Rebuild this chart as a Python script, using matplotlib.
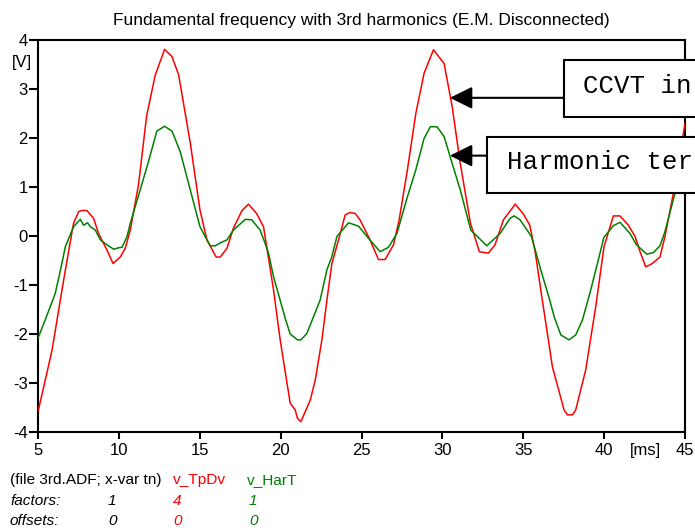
import matplotlib

matplotlib.use("Agg")
import matplotlib.pyplot as plt
from matplotlib.patches import Rectangle

# v_TpDv (already multiplied by factor 4)
time_red = [
    5.0, 5.43, 5.85, 6.26, 6.67, 7.18, 7.5, 7.7, 8.0, 8.42, 8.73, 9.25, 9.62, 10.07, 10.38, 10.69,
    11.2, 11.7, 12.23, 12.81, 13.27, 13.68, 14.4, 15.0, 15.43, 16.0, 16.25, 16.67, 17.07, 17.6,
    18.0, 18.5, 18.93, 19.55, 19.96, 20.58, 20.89, 21.03, 21.24, 21.82, 22.13, 22.54, 22.85, 23.16,
    23.57, 23.98, 24.29, 24.6, 24.9, 25.52, 26.04, 26.45, 26.97, 27.32, 27.83, 28.35, 28.86, 29.44,
    30.1, 30.6, 31.1, 31.73, 32.28, 32.84, 33.25, 33.77, 34.5, 35.0, 35.4, 35.73, 36.08, 36.8,
    37.52, 37.73, 38.04, 38.24, 38.86, 39.48, 39.99, 40.57, 40.98, 41.5, 41.91, 42.22, 42.57,
    42.94, 43.45, 43.76, 44.28, 44.9, 45.0,
]
v_tpdv = [
    -3.56, -2.94, -2.33, -1.51, -0.70, 0.26, 0.50, 0.52, 0.52, 0.36, 0.05, -0.29, -0.56, -0.43, -0.25, 0.12,
    1.05, 2.45, 3.28, 3.81, 3.66, 3.29, 1.90, 0.53, -0.08, -0.43, -0.43, -0.25, 0.16, 0.52,
    0.65, 0.46, 0.19, -1.10, -2.12, -3.41, -3.55, -3.72, -3.79, -3.35, -2.94, -2.12, -1.31, -0.56,
    -0.08, 0.43, 0.48, 0.46, 0.33, -0.08, -0.48, -0.48, -0.18, 0.33, 1.35, 2.50, 3.32, 3.80,
    3.52, 2.64, 1.48, 0.26, -0.32, -0.35, -0.18, 0.33, 0.65, 0.45, 0.22, -0.32, -1.10, -2.67,
    -3.55, -3.65, -3.65, -3.55, -2.73, -1.44, -0.22, 0.41, 0.41, 0.22, -0.01, -0.32, -0.63,
    -0.57, -0.43, -0.01, 0.87, 2.10, 2.30,
]

# v_HarT (factor 1)
time_green = [
    5.0, 5.43, 6.05, 6.46, 6.67, 7.18, 7.6, 7.8, 8.05, 8.22, 8.53, 8.84, 9.25, 9.66, 9.97, 10.18,
    10.49, 10.69, 11.3, 11.8, 12.33, 12.81, 13.27, 13.78, 14.4, 15.0, 15.63, 15.94, 16.25, 16.67,
    17.07, 17.8, 18.2, 18.72, 19.03, 19.24, 19.55, 19.96, 20.27, 20.58, 21.03, 21.24, 21.61, 22.02,
    22.43, 22.85, 23.16, 23.47, 24.19, 24.81, 25.33, 26.14, 26.66, 27.18, 27.83, 28.35, 28.86,
    29.25, 29.66, 30.1, 30.6, 31.1, 31.75, 32.74, 33.56, 34.18, 34.43, 34.8, 35.5, 36.08, 36.6,
    36.91, 37.32, 37.83, 38.24, 38.66, 39.17, 39.69, 39.98, 40.57, 40.98, 41.6, 42.0, 42.63, 43.04,
    43.45, 43.76, 44.38, 45.0,
]
v_hart = [
    -2.07, -1.71, -1.17, -0.56, -0.22, 0.19, 0.34, 0.22, 0.27, 0.19, 0.12, -0.08, -0.18, -0.27, -0.24, -0.23,
    -0.01, 0.26, 0.94, 1.50, 2.14, 2.24, 2.14, 1.72, 0.94, 0.19, -0.20, -0.20, -0.14, -0.08,
    0.12, 0.34, 0.33, 0.12, -0.15, -0.35, -0.83, -1.31, -1.68, -2.00, -2.12, -2.12, -1.99, -1.65,
    -1.31, -0.69, -0.42, -0.01, 0.27, 0.20, -0.01, -0.32, -0.23, 0.05, 0.80, 1.35, 1.99,
    2.23, 2.23, 2.03, 1.48, 0.94, 0.12, -0.20, 0.05, 0.36, 0.41, 0.33, -0.01, -0.69, -1.27,
    -1.65, -2.02, -2.12, -2.02, -1.71, -1.10, -0.42, -0.03, 0.21, 0.28, 0.05, -0.18, -0.37, -0.34,
    -0.20, 0.09, 0.87, 1.60,
]

x_ticks = [5, 10, 15, 20, 25, 30, 35, 40, 45]
y_ticks = [-4, -3, -2, -1, 0, 1, 2, 3, 4]

title = "Fundamental frequency with 3rd harmonics (E.M. Disconnected)"
footer_rows = [
    ("(file 3rd.ADF; x-var tn)", "v_TpDv", "v_HarT"),
    ("factors:", "1", "4", "1"),
    ("offsets:", "0", "0", "0"),
]

RED = "#ff0000"
GREEN = "#008000"
W, H = 695, 531

plt.rcParams["font.family"] = ["Liberation Sans", "DejaVu Sans"]
plt.rcParams["axes.unicode_minus"] = False

fig = plt.figure(figsize=(W / 100, H / 100), dpi=100)
ax = fig.add_axes([38.3 / W, 1 - 432 / H, (685 - 38.3) / W, 392 / H])
ax.plot(time_red, v_tpdv, color=RED, lw=1.1, zorder=3)
ax.plot(time_green, v_hart, color=GREEN, lw=1.1, zorder=3)

ax.set_xlim(5, 45)
ax.set_ylim(-4, 4)
ax.set_xticks(x_ticks)
ax.set_yticks(y_ticks)
ax.tick_params(axis="y", direction="out", length=6.5, width=1.5, pad=1, labelsize=12)
ax.tick_params(axis="x", direction="out", length=5, width=1.5, pad=3, labelsize=12)
for spine in ax.spines.values():
    spine.set_linewidth(1.5)

fig.text(361 / W, 1 - 20 / H, title, ha="center", va="center", fontsize=12.5)
fig.text(22 / W, 1 - 62 / H, "[V]", ha="center", va="center", fontsize=12)
fig.text(645 / W, 1 - 450 / H, "[ms]", ha="center", va="center", fontsize=12)

# callout boxes pointing at the peaks
boxes = [
    (37.49, 2.435, 1.155, 38.69, 2.92, "CCVT in", 2.82),
    (32.74, 0.87, 1.16, 33.98, 1.36, "Harmonic ter", 1.64),
]
for bx, by, bh, tx, ty, label, ay in boxes:
    ax.add_patch(Rectangle((bx, by), 20, bh, facecolor="white", edgecolor="black",
                           lw=1.5, clip_on=False, zorder=6))
    ax.text(tx, ty, label, family="Liberation Mono", fontsize=18.5, va="baseline",
            zorder=7, clip_on=False)
    ax.annotate("", xy=(30.46, ay), xytext=(bx, ay), annotation_clip=False, zorder=6,
                arrowprops=dict(arrowstyle="-|>,head_length=13.7,head_width=6.8",
                                mutation_scale=1, color="black", lw=1.5,
                                shrinkA=0, shrinkB=0))

# ATP-style footer with variable names, factors and offsets
col_x = [10, 108, 173, 249]
row_y = [480, 501, 521]
fs = 11.1
head, red_name, green_name = footer_rows[0]
fig.text(col_x[0] / W, 1 - row_y[0] / H, head, va="center", fontsize=fs)
fig.text(172.5 / W, 1 - row_y[0] / H, red_name, va="center", fontsize=fs, color=RED)
fig.text(246.7 / W, 1 - row_y[0] / H, green_name, va="center", fontsize=fs, color=GREEN)
for row, y in zip(footer_rows[1:], row_y[1:]):
    for text, x, color in zip(row, col_x, ["black", "black", RED, GREEN]):
        fig.text(x / W, 1 - y / H, text, va="center", fontsize=fs, style="italic", color=color)

fig.savefig("out.png", dpi=100)
